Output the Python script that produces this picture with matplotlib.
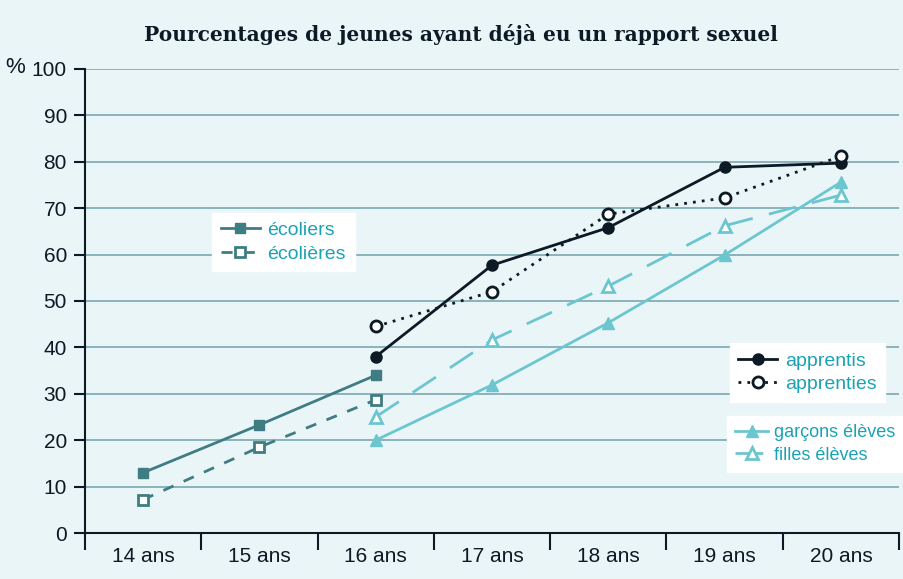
import matplotlib.pyplot as plt
import numpy as np

ages = ["14 ans", "15 ans", "16 ans", "17 ans", "18 ans", "19 ans", "20 ans"]

ecoliers = [13, 23.3, 34]
ecolieres = [7.2, 18.5, 28.7]
apprentis = [38, 57.7, 65.8, 78.8, 79.7]
apprenties = [44.5, 52, 68.7, 72.2, 81.2]
garcons_eleves = [20, 31.9, 45.3, 59.9, 75.6]
filles_eleves = [25, 41.6, 53.2, 66.2, 72.8]

bg = "#eaf5f8"
teal = "#3f7d83"
navy = "#0b1a24"
cyan = "#6cc6d0"
txt_cyan = "#1aa3b3"
grid_c = "#7aa8b0"

plt.rcParams['font.family'] = ['Liberation Sans', 'DejaVu Sans']

fig = plt.figure(figsize=(9.04, 5.79), dpi=100, facecolor=bg)
ax = fig.add_axes([0.094, 0.0794, 0.9005, 0.8016], facecolor=bg)

x_school = np.arange(0, 3)
x_old = np.arange(2, 7)

l1, = ax.plot(x_school, ecoliers, color=teal, lw=2, marker='s', ms=7,
              label="écoliers", zorder=3)
l2, = ax.plot(x_school, ecolieres, color=teal, lw=2, ls=(0, (4, 4)), marker='s',
              ms=7, mfc='white', mew=2, label="écolières", zorder=3)
l3, = ax.plot(x_old, apprentis, color=navy, lw=2, marker='o', ms=8,
              label="apprentis", zorder=4)
l4, = ax.plot(x_old, apprenties, color=navy, lw=2, ls=(0, (1, 2.2)), marker='o',
              ms=8, mfc='white', mew=2, label="apprenties", zorder=4)
l5, = ax.plot(x_old, garcons_eleves, color=cyan, lw=2, marker='^', ms=9,
              label="garçons élèves", zorder=3)
l6, = ax.plot(x_old, filles_eleves, color=cyan, lw=2, ls=(0, (10, 6)), marker='^',
              ms=9, mfc='white', mew=2, label="filles élèves", zorder=3)

ax.set_xlim(-0.5, 6.5)
ax.set_ylim(0, 100)
ax.set_yticks(np.arange(0, 101, 10))
ax.set_yticklabels([str(v) for v in range(0, 101, 10)], fontsize=15, color=navy)
ax.set_xticks(np.arange(7))
ax.set_xticklabels(ages, fontsize=15, color=navy)
ax.set_xticks(np.arange(-0.5, 7, 1), minor=True)
ax.tick_params(axis='x', which='major', length=0, pad=10)
ax.tick_params(axis='x', which='minor', length=12, width=1.5, color=navy)
ax.tick_params(axis='y', length=8, width=1.5, color=navy, pad=5)
for y in range(10, 101, 10):
    ax.axhline(y, color=grid_c, lw=1.2, zorder=1)
for s in ['top', 'right']:
    ax.spines[s].set_visible(False)
for s in ['left', 'bottom']:
    ax.spines[s].set_color(navy)
    ax.spines[s].set_linewidth(1.5)

fig.text(0.006, 0.883, "%", fontsize=16, color=navy, va='center', ha='left')
fig.text(0.51, 0.94, "Pourcentages de jeunes ayant déjà eu un rapport sexuel",
         fontsize=14.5, fontweight='bold', ha='center', va='center', color=navy,
         family=['DejaVu Serif', 'DejaVu Sans'])

leg_kw = dict(frameon=True, fancybox=False, framealpha=1, edgecolor='white',
              facecolor='white', fontsize=14, handlelength=2.0, labelspacing=0.3,
              borderpad=0.45, handletextpad=0.4, borderaxespad=0, labelcolor=txt_cyan)
leg1 = ax.legend(handles=[l1, l2], loc='upper left', bbox_to_anchor=(0.156, 0.69), **leg_kw)
ax.add_artist(leg1)
leg2 = ax.legend(handles=[l3, l4], loc='upper left', bbox_to_anchor=(0.792, 0.409), **leg_kw)
ax.add_artist(leg2)
leg3 = ax.legend(handles=[l5, l6], loc='upper left', bbox_to_anchor=(0.789, 0.252),
                 **{**leg_kw, 'fontsize': 13, 'handlelength': 1.8, 'handletextpad': 0.35})

fig.savefig("out.png", dpi=100, facecolor=bg)
